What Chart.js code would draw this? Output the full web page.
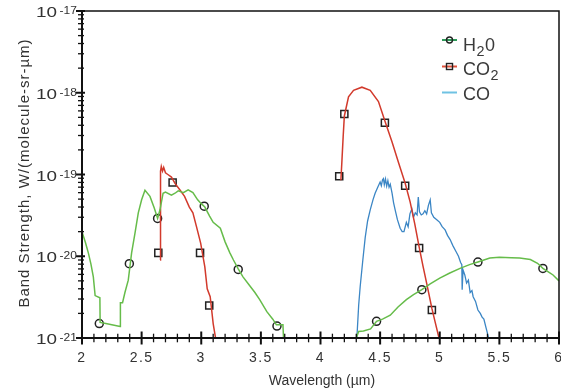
<!DOCTYPE html>
<html>
<head>
<meta charset="utf-8">
<script src="https://cdn.jsdelivr.net/npm/chart.js@4.4.1/dist/chart.umd.min.js"></script>
<style>
  html, body { margin: 0; padding: 0; background: #fff; }
  #wrap { width: 561px; height: 392px; }
</style>
</head>
<body>
<div id="wrap"><canvas id="chart" width="561" height="392"></canvas></div>
<script>
// --- data ---
const h2oX = [2.00, 2.03, 2.053, 2.075, 2.095, 2.11, 2.15, 2.152, 2.20, 2.25, 2.32, 2.322, 2.34, 2.36, 2.388, 2.416, 2.444, 2.472, 2.50, 2.528, 2.57, 2.606, 2.634, 2.654, 2.68, 2.70, 2.75, 2.78, 2.807, 2.85, 2.89, 2.93, 2.97, 3.00, 3.03, 3.07, 3.10, 3.16, 3.20, 3.24, 3.27, 3.31, 3.35, 3.41, 3.45, 3.49, 3.55, 3.60, 3.63, 3.685, 3.69,
  4.00,
  4.30, 4.32, 4.36, 4.42, 4.47, 4.52, 4.585, 4.65, 4.72, 4.78, 4.85, 4.92, 5.00, 5.08, 5.17, 5.25, 5.32, 5.42, 5.50, 5.60, 5.67, 5.76, 5.82, 5.865, 5.92, 5.95, 6.00];
const h2oY = [2.0e-20, 1.45e-20, 1.1e-20, 8e-21, 5.6e-21, 3.3e-21, 3.1e-21, 1.55e-21, 1.5e-21, 1.45e-21, 1.38e-21, 2.7e-21, 2.7e-21, 3.6e-21, 5.1e-21, 1.1e-20, 1.9e-20, 3.4e-20, 4.9e-20, 6.4e-20, 5.4e-20, 3.9e-20, 2.9e-20, 3.7e-20, 5.9e-20, 6.1e-20, 5.6e-20, 5.9e-20, 6.3e-20, 6.0e-20, 6.5e-20, 6.0e-20, 4.9e-20, 4.4e-20, 4.0e-20, 3.1e-20, 2.6e-20, 2.2e-20, 1.5e-20, 1.1e-20, 9e-21, 7.0e-21, 5.6e-21, 4.3e-21, 3.6e-21, 2.95e-21, 2.1e-21, 1.7e-21, 1.45e-21, 1.45e-21, 1e-21,
  null,
  1e-21, 1.2e-21, 1.22e-21, 1.29e-21, 1.6e-21, 1.7e-21, 1.9e-21, 2.4e-21, 2.95e-21, 3.4e-21, 3.9e-21, 4.6e-21, 5.4e-21, 6.2e-21, 7.1e-21, 7.9e-21, 8.5e-21, 9.5e-21, 9.7e-21, 9.6e-21, 9.5e-21, 9.1e-21, 8.2e-21, 7.1e-21, 6.3e-21, 5.9e-21, 5.0e-21];

const co2X = [2.655, 2.657, 2.66, 2.665, 2.675, 2.685, 2.70, 2.72, 2.75, 2.78, 2.82, 2.86, 2.90, 2.93, 2.96, 2.995, 3.03, 3.05, 3.075, 3.10, 3.12,
  3.50,
  4.171, 4.18, 4.19, 4.20, 4.235, 4.277, 4.347, 4.417, 4.486, 4.54, 4.60, 4.654, 4.71, 4.752, 4.79, 4.827, 4.86, 4.89, 4.934, 4.96, 4.99, 5.00];
const co2Y = [9e-21, 5e-20, 1.1e-19, 1.25e-19, 1.1e-19, 1.22e-19, 1.05e-19, 1.0e-19, 9.3e-20, 7.8e-20, 6.5e-20, 5.4e-20, 4.0e-20, 3.4e-20, 2.3e-20, 1.45e-20, 7.4e-21, 4e-21, 3.2e-21, 1.5e-21, 1e-21,
  null,
  8.5e-20, 1.5e-19, 2.9e-19, 5.2e-19, 8.9e-19, 1.07e-18, 1.17e-18, 1.07e-18, 7.8e-19, 4.5e-19, 2.5e-19, 1.4e-19, 7.8e-20, 4.6e-20, 2.5e-20, 1.3e-20, 7.5e-21, 4.7e-21, 2.3e-21, 1.6e-21, 1.05e-21, 1e-21];

const coX = [4.305, 4.32, 4.333, 4.355, 4.375, 4.395, 4.417, 4.44, 4.458, 4.48, 4.50, 4.51, 4.52, 4.528, 4.535, 4.545, 4.555, 4.565, 4.575, 4.585, 4.60, 4.613, 4.626, 4.645, 4.668, 4.685, 4.70, 4.72, 4.735, 4.75, 4.766, 4.78, 4.795, 4.81, 4.82, 4.83, 4.845, 4.86, 4.875, 4.89, 4.905, 4.92, 4.93, 4.95, 4.975, 5.00, 5.02, 5.045, 5.065, 5.087, 5.11, 5.135, 5.157, 5.175, 5.185, 5.188, 5.195, 5.21, 5.225, 5.24, 5.255, 5.27, 5.28, 5.30, 5.32, 5.34, 5.355, 5.37, 5.39, 5.41];
const coY = [1e-21, 2.5e-21, 4.3e-21, 9e-21, 1.7e-20, 2.7e-20, 3.7e-20, 4.9e-20, 5.9e-20, 7.0e-20, 8.1e-20, 7.3e-20, 8.6e-20, 8.9e-20, 7.5e-20, 8.8e-20, 7.2e-20, 8.4e-20, 7.0e-20, 7.6e-20, 5.9e-20, 4.5e-20, 3.7e-20, 2.8e-20, 2.2e-20, 2.0e-20, 2.0e-20, 2.6e-20, 2.3e-20, 3.3e-20, 3.8e-20, 3.0e-20, 3.4e-20, 3.2e-20, 5.3e-20, 3.5e-20, 3.2e-20, 3.3e-20, 3.6e-20, 3.3e-20, 4.2e-20, 4.9e-20, 3.4e-20, 3.0e-20, 2.8e-20, 2.6e-20, 2.3e-20, 2.1e-20, 1.8e-20, 1.6e-20, 1.35e-20, 1.15e-20, 1.0e-20, 8.4e-21, 7.9e-21, 3.9e-21, 6.8e-21, 5.9e-21, 4.7e-21, 5.1e-21, 3.6e-21, 3.8e-21, 3.2e-21, 2.8e-21, 2.2e-21, 2.0e-21, 1.8e-21, 1.7e-21, 1.3e-21, 1e-21];

const h2oMarkX = [2.145, 2.397, 2.634, 3.025, 3.31, 3.635, 4.47, 4.85, 5.32, 5.865];
const h2oMarkY = [1.5e-21, 8.1e-21, 2.9e-20, 4.1e-20, 6.9e-21, 1.4e-21, 1.6e-21, 3.9e-21, 8.5e-21, 7.1e-21];
const co2MarkX = [2.64, 2.76, 2.99, 3.067, 4.157, 4.20, 4.54, 4.71, 4.827, 4.934];
const co2MarkY = [1.1e-20, 8e-20, 1.1e-20, 2.5e-21, 9.5e-20, 5.5e-19, 4.3e-19, 7.3e-20, 1.26e-20, 2.2e-21];

const xTickValues = [2, 2.5, 3, 3.5, 4, 4.5, 5, 5.5, 6];
const xTickLabels = ['2', '2.5', '3', '3.5', '4', '4.5', '5', '5.5', '6'];
const yDecades = [1e-21, 1e-20, 1e-19, 1e-18, 1e-17];
const yExponents = ['-21', '-20', '-19', '-18', '-17'];

const FONT = '"Liberation Sans", Arial, sans-serif';
const GREEN = '#66bc4a';
const RED = '#d23a2c';
const BLUE = '#3b86c5';

function pts(xs, ys) {
    return xs.map((x, i) => ({ x: x, y: ys[i] }));
}

// draws text with subscript pieces, e.g. [['H'], ['2', true], ['0']]
function drawParts(ctx, parts, x, y, size) {
    parts.forEach(p => {
        const sub = p[1];
        ctx.font = (sub ? size * 0.8 : size) + 'px ' + FONT;
        ctx.fillText(p[0], x, sub ? y + size * 0.3 : y);
        x += ctx.measureText(p[0]).width + 0.5;
    });
}

const axesPlugin = {
    id: 'axesPlugin',
    afterDraw(chart) {
        const ctx = chart.ctx;
        const a = chart.chartArea;
        const xs = chart.scales.x;
        const ys = chart.scales.y;
        ctx.save();
        ctx.strokeStyle = '#111';
        ctx.fillStyle = '#333';

        // top / right frame
        ctx.lineWidth = 1.5;
        ctx.beginPath();
        ctx.moveTo(a.left, a.top);
        ctx.lineTo(a.right, a.top);
        ctx.lineTo(a.right, a.bottom);
        ctx.stroke();

        // x ticks: minor every 0.1, major every 0.5
        for (let i = 0; i <= 40; i++) {
            const px = xs.getPixelForValue(2 + i / 10);
            const major = i % 5 === 0;
            ctx.lineWidth = major ? 2 : 1.3;
            ctx.beginPath();
            ctx.moveTo(px, a.bottom - (major ? 6.5 : 4.3));
            ctx.lineTo(px, a.bottom + (major ? 6.5 : 4.3));
            ctx.stroke();
        }
        // y ticks: decades and 2..9 minors
        yDecades.forEach((d, k) => {
            const py = ys.getPixelForValue(d);
            ctx.lineWidth = 2;
            ctx.beginPath();
            ctx.moveTo(a.left - 6, py);
            ctx.lineTo(a.left + 3, py);
            ctx.stroke();
            if (k < yDecades.length - 1) {
                for (let m = 2; m <= 9; m++) {
                    const pm = ys.getPixelForValue(d * m);
                    ctx.lineWidth = 1.3;
                    ctx.beginPath();
                    ctx.moveTo(a.left - 4, pm);
                    ctx.lineTo(a.left + 2, pm);
                    ctx.stroke();
                }
            }
        });

        // axis lines
        ctx.lineWidth = 2;
        ctx.beginPath();
        ctx.moveTo(a.left, a.top);
        ctx.lineTo(a.left, a.bottom);
        ctx.lineTo(a.right, a.bottom);
        ctx.stroke();

        // x tick labels
        ctx.font = '14px ' + FONT;
        ctx.textAlign = 'center';
        ctx.textBaseline = 'alphabetic';
        if ('letterSpacing' in ctx) ctx.letterSpacing = '1.5px';
        xTickValues.forEach((v, i) => {
            ctx.fillText(xTickLabels[i], xs.getPixelForValue(v), 362);
        });
        if ('letterSpacing' in ctx) ctx.letterSpacing = '0px';

        // y tick labels 10^n
        yDecades.forEach((d, i) => {
            const py = ys.getPixelForValue(d);
            ctx.save();
            ctx.translate(57, py + 6);
            ctx.scale(1.35, 1);
            ctx.font = '14px ' + FONT;
            ctx.textAlign = 'right';
            ctx.fillText('10', 0, 0);
            ctx.restore();
            ctx.save();
            ctx.translate(59.5, py + 3);
            ctx.scale(1.2, 1);
            ctx.font = '10px ' + FONT;
            ctx.textAlign = 'left';
            ctx.fillText(yExponents[i], 0, 0);
            ctx.restore();
        });

        // axis titles
        ctx.font = '14px ' + FONT;
        ctx.textAlign = 'center';
        ctx.fillText('Wavelength (\u00b5m)', 322, 385);
        ctx.save();
        ctx.translate(29, 173);
        ctx.rotate(-Math.PI / 2);
        ctx.font = '15px ' + FONT;
        if ('letterSpacing' in ctx) ctx.letterSpacing = '1px';
        ctx.fillText('Band Strength, W/(molecule-sr-\u00b5m)', 0, 0);
        ctx.restore();

        // legend
        const rows = [
            { lineY: 40, base: 51, color: '#2f9a5a', marker: 'circle', parts: [['H'], ['2', true], ['0']] },
            { lineY: 66.5, base: 75, color: '#e0523c', marker: 'square', parts: [['CO'], ['2', true]] },
            { lineY: 92.5, base: 100, color: '#6fc2e3', marker: null, parts: [['CO']] }
        ];
        ctx.textAlign = 'left';
        rows.forEach(r => {
            ctx.strokeStyle = r.color;
            ctx.lineWidth = 2;
            ctx.beginPath();
            ctx.moveTo(442, r.lineY);
            ctx.lineTo(457, r.lineY);
            ctx.stroke();
            ctx.strokeStyle = '#222';
            ctx.lineWidth = 1.4;
            if (r.marker === 'circle') {
                ctx.beginPath();
                ctx.arc(449.5, r.lineY, 3, 0, Math.PI * 2);
                ctx.stroke();
            } else if (r.marker === 'square') {
                ctx.strokeRect(446.5, r.lineY - 3, 6, 6);
            }
            ctx.fillStyle = '#3a3a3a';
            drawParts(ctx, r.parts, 463, r.base, 18);
        });
        ctx.restore();
    }
};

const ctx = document.getElementById('chart');
new Chart(ctx, {
    type: 'line',
    data: {
        datasets: [
            {
                label: 'H2O',
                data: pts(h2oX, h2oY),
                borderColor: GREEN,
                borderWidth: 1.5,
                pointRadius: 0,
                tension: 0
            },
            {
                label: 'CO2',
                data: pts(co2X, co2Y),
                borderColor: RED,
                borderWidth: 1.5,
                pointRadius: 0,
                tension: 0
            },
            {
                label: 'CO',
                data: pts(coX, coY),
                borderColor: BLUE,
                borderWidth: 1.3,
                pointRadius: 0,
                tension: 0
            },
            {
                label: 'H2O markers',
                data: pts(h2oMarkX, h2oMarkY),
                showLine: false,
                pointStyle: 'circle',
                pointRadius: 4,
                pointBorderWidth: 1.5,
                pointBorderColor: '#222',
                pointBackgroundColor: 'rgba(0,0,0,0)'
            },
            {
                label: 'CO2 markers',
                data: pts(co2MarkX, co2MarkY),
                showLine: false,
                pointStyle: 'rect',
                pointRadius: 5,
                pointBorderWidth: 1.5,
                pointBorderColor: '#222',
                pointBackgroundColor: '#fff'
            }
        ]
    },
    options: {
        responsive: false,
        animation: false,
        devicePixelRatio: 1,
        layout: { autoPadding: false, padding: { left: 82, right: 2, top: 11, bottom: 54 } },
        plugins: {
            legend: { display: false },
            tooltip: { enabled: false }
        },
        scales: {
            x: { type: 'linear', min: 2, max: 6, display: false },
            y: { type: 'logarithmic', min: 1e-21, max: 1e-17, display: false }
        }
    },
    plugins: [axesPlugin]
});
</script>
</body>
</html>
